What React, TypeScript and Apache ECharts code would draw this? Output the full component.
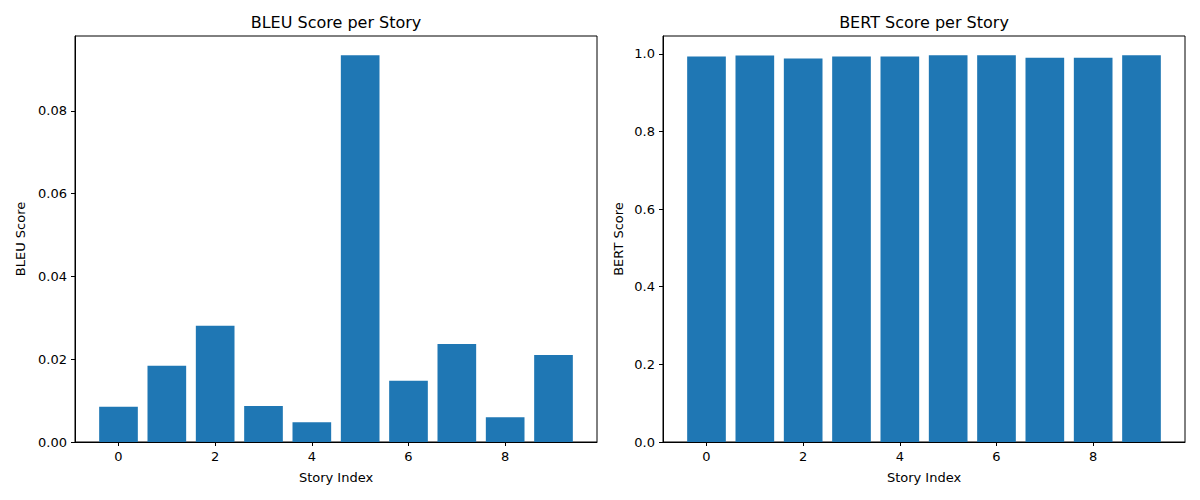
import React, { useEffect, useRef } from "react";
import * as echarts from "echarts";

const storyIndex = [0, 1, 2, 3, 4, 5, 6, 7, 8, 9];
const bleuScores = [0.0085, 0.0184, 0.0281, 0.0087, 0.0048, 0.0934, 0.0148, 0.0237, 0.006, 0.021];
const bertScores = [0.993, 0.9955, 0.988, 0.993, 0.993, 0.996, 0.996, 0.990, 0.990, 0.996];
const xTicks = [0, 2, 4, 6, 8];
const bleuTicks = [0, 0.02, 0.04, 0.06, 0.08];
const bertTicks = [0, 0.2, 0.4, 0.6, 0.8, 1.0];

const FONT = "DejaVu Sans";
const BAR = "#1f77b4";

export default function App() {
  const ref = useRef<HTMLDivElement>(null);
  useEffect(() => {
    if (!ref.current) return;
    const chart = echarts.init(ref.current, null, { renderer: "svg" });
    const gridW = 522;
    const unit = gridW / 10.8;
    const barW = unit * 0.8;
    const xAxisBase = (idx: number) => ({
      type: "value",
      gridIndex: idx,
      min: -0.9,
      max: 9.9,
      name: "Story Index",
      nameLocation: "middle",
      nameGap: 29,
      nameTextStyle: { fontFamily: FONT, fontSize: 13, color: "#000" },
      axisLine: { show: true, onZero: false, lineStyle: { color: "#000", width: 1 } },
      axisTick: { show: true, length: 4, lineStyle: { color: "#000" }, customValues: xTicks },
      axisLabel: { fontFamily: FONT, fontSize: 13, color: "#000", margin: 8, customValues: xTicks },
      splitLine: { show: false },
    });
    const yAxisBase = (idx: number, name: string, max: number, ticks: number[], dec: number, gap: number) => ({
      type: "value",
      gridIndex: idx,
      min: 0,
      max,
      name,
      nameLocation: "middle",
      nameGap: gap,
      nameTextStyle: { fontFamily: FONT, fontSize: 13, color: "#000" },
      axisLine: { show: true, onZero: false, lineStyle: { color: "#000", width: 1 } },
      axisTick: { show: true, length: 4, lineStyle: { color: "#000" }, customValues: ticks },
      axisLabel: {
        fontFamily: FONT,
        fontSize: 13,
        color: "#000",
        margin: 8,
        customValues: ticks,
        formatter: (v: number) => v.toFixed(dec),
      },
      splitLine: { show: false },
    });
    chart.setOption({
      animation: false,
      backgroundColor: "#fff",
      grid: [
        { left: 75, right: 603, top: 36, bottom: 58, show: true, borderColor: "#000", borderWidth: 1, backgroundColor: "transparent" },
        { left: 663, right: 15, top: 36, bottom: 58, show: true, borderColor: "#000", borderWidth: 1, backgroundColor: "transparent" },
      ],
      graphic: [
        {
          type: "text",
          x: 336,
          y: 22,
          style: { text: "BLEU Score per Story", fontFamily: FONT, fontSize: 16, fill: "#000", textAlign: "center", textVerticalAlign: "middle" },
        },
        {
          type: "text",
          x: 924,
          y: 22,
          style: { text: "BERT Score per Story", fontFamily: FONT, fontSize: 16, fill: "#000", textAlign: "center", textVerticalAlign: "middle" },
        },
      ],
      xAxis: [xAxisBase(0), xAxisBase(1)],
      yAxis: [
        yAxisBase(0, "BLEU Score", 0.0934 * 1.05, bleuTicks, 2, 48),
        yAxisBase(1, "BERT Score", 0.996 * 1.05, bertTicks, 1, 38),
      ],
      series: [
        {
          type: "bar",
          xAxisIndex: 0,
          yAxisIndex: 0,
          barWidth: barW,
          itemStyle: { color: BAR },
          data: storyIndex.map((x, i) => [x, bleuScores[i]]),
        },
        {
          type: "bar",
          xAxisIndex: 1,
          yAxisIndex: 1,
          barWidth: barW,
          itemStyle: { color: BAR },
          data: storyIndex.map((x, i) => [x, bertScores[i]]),
        },
      ],
    });
    return () => chart.dispose();
  }, []);
  return <div ref={ref} style={{ position: "absolute", left: 0, top: 0, width: 1200, height: 500 }} />;
}
